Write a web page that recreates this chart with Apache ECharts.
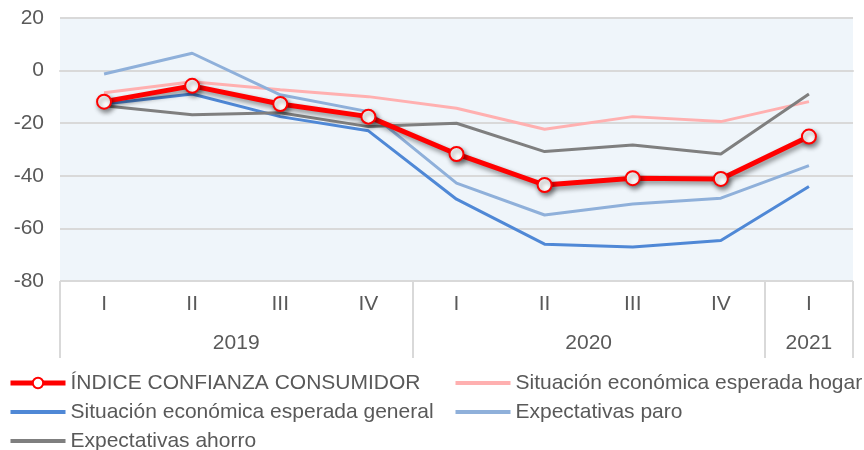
<!DOCTYPE html>
<html>
<head>
<meta charset="utf-8">
<script src="https://cdn.jsdelivr.net/npm/echarts@6/dist/echarts.min.js"></script>
<style>
  html, body { margin: 0; padding: 0; background: #fff; }
  #chart { width: 864px; height: 450px; }
</style>
</head>
<body>
<div id="chart"></div>
<script>
const quarters = ['I', 'II', 'III', 'IV', 'I', 'II', 'III', 'IV', 'I']
const years = ['2019', '2020', '2021']
const yearSpans = [4, 4, 1]   // quarters per year

const icc     = [-11.8, -5.8, -12.7, -17.5, -31.7, -43.5, -40.9, -41.2, -25.1]
const hogar   = [-8.4, -4.2, -7.3, -9.9, -14.3, -22.3, -17.5, -19.4, -11.8]
const general = [-12.7, -8.9, -17.5, -22.9, -48.9, -66.0, -67.1, -64.6, -44.1]
const paro    = [-1.3, 6.6, -9.2, -15.6, -42.8, -54.9, -50.7, -48.5, -36.1]
const ahorro  = [-13.4, -16.8, -16.0, -21.3, -20.0, -30.8, -28.3, -31.7, -8.9]

const names = [
  'ÍNDICE CONFIANZA CONSUMIDOR',
  'Situación económica esperada hogar',
  'Situación económica esperada general',
  'Expectativas paro',
  'Expectativas ahorro',
]

// year group boundaries and centers on a 0..9 value scale
const yearBounds = [0]
const yearCenters = []
yearSpans.forEach(s => {
  const start = yearBounds[yearBounds.length - 1]
  yearCenters.push(start + s / 2)
  yearBounds.push(start + s)
})

const FONT = "'Liberation Sans', Arial, sans-serif"
const TXT = '#595959'
const GRIDLINE = '#d9d9d9'

function thinLine(name, data, color) {
  return {
    name,
    type: 'line',
    data,
    symbol: 'none',
    lineStyle: { width: 3, color },
    itemStyle: { color },
    z: 2,
  }
}

const chart = echarts.init(document.getElementById('chart'), null, { renderer: 'canvas' })

chart.setOption({
  animation: false,
  textStyle: { fontFamily: FONT },
  grid: {
    left: 60, right: 11, top: 18, bottom: 169,
    show: true, backgroundColor: '#eff5fa', borderWidth: 0,
  },
  legend: {
    left: 8, right: 0, top: 372, padding: 0,
    itemWidth: 55, itemHeight: 13, itemGap: 7,
    textStyle: { fontSize: 21, color: TXT, fontFamily: FONT, lineHeight: 22 },
    data: [
      { name: names[0], textStyle: { width: 376 }, lineStyle: { width: 5 } },
      { name: names[1], itemStyle: { opacity: 0 }, lineStyle: { width: 4 } },
      { name: names[2], textStyle: { width: 376 }, itemStyle: { opacity: 0 }, lineStyle: { width: 4 } },
      { name: names[3], itemStyle: { opacity: 0 }, lineStyle: { width: 4 } },
      { name: names[4], itemStyle: { opacity: 0 }, lineStyle: { width: 4 } },
    ],
  },
  xAxis: [
    {
      type: 'category',
      data: quarters,
      boundaryGap: true,
      position: 'bottom',
      axisLine: { show: true, lineStyle: { color: GRIDLINE, width: 2 } },
      axisTick: { show: false },
      axisLabel: { color: TXT, fontSize: 21, margin: 13, fontFamily: FONT },
      splitLine: { show: false },
    },
    {
      type: 'value',
      min: 0,
      max: yearBounds[yearBounds.length - 1],
      position: 'bottom',
      axisLine: { show: false },
      axisTick: {
        show: true,
        customValues: yearBounds,
        length: 77,
        lineStyle: { color: GRIDLINE, width: 2 },
      },
      axisLabel: {
        customValues: yearCenters,
        color: TXT, fontSize: 21, margin: 52, fontFamily: FONT,
        formatter: v => years[yearCenters.indexOf(v)] ?? '',
      },
      splitLine: { show: false },
    },
  ],
  yAxis: {
    type: 'value',
    min: -80, max: 20, interval: 20,
    axisLine: { show: false },
    axisTick: { show: false },
    axisLabel: { color: TXT, fontSize: 21, margin: 16, fontFamily: FONT },
    splitLine: { lineStyle: { color: GRIDLINE, width: 2 } },
  },
  series: [
    {
      name: names[0],
      type: 'line',
      data: icc,
      z: 5,
      symbol: 'circle',
      symbolSize: 14,
      lineStyle: {
        width: 5, color: '#ff0000',
        shadowColor: 'rgba(0,0,0,0.45)', shadowBlur: 5, shadowOffsetX: 2, shadowOffsetY: 3,
      },
      itemStyle: {
        color: '#ffffff', borderColor: '#ff0000', borderWidth: 2,
        shadowColor: 'rgba(0,0,0,0.45)', shadowBlur: 5, shadowOffsetX: 2, shadowOffsetY: 3,
      },
    },
    thinLine(names[1], hogar, '#ffb0b0'),
    thinLine(names[2], general, '#4f88d6'),
    thinLine(names[3], paro, '#8fb0da'),
    thinLine(names[4], ahorro, '#7f7f7f'),
  ],
})
</script>
</body>
</html>
